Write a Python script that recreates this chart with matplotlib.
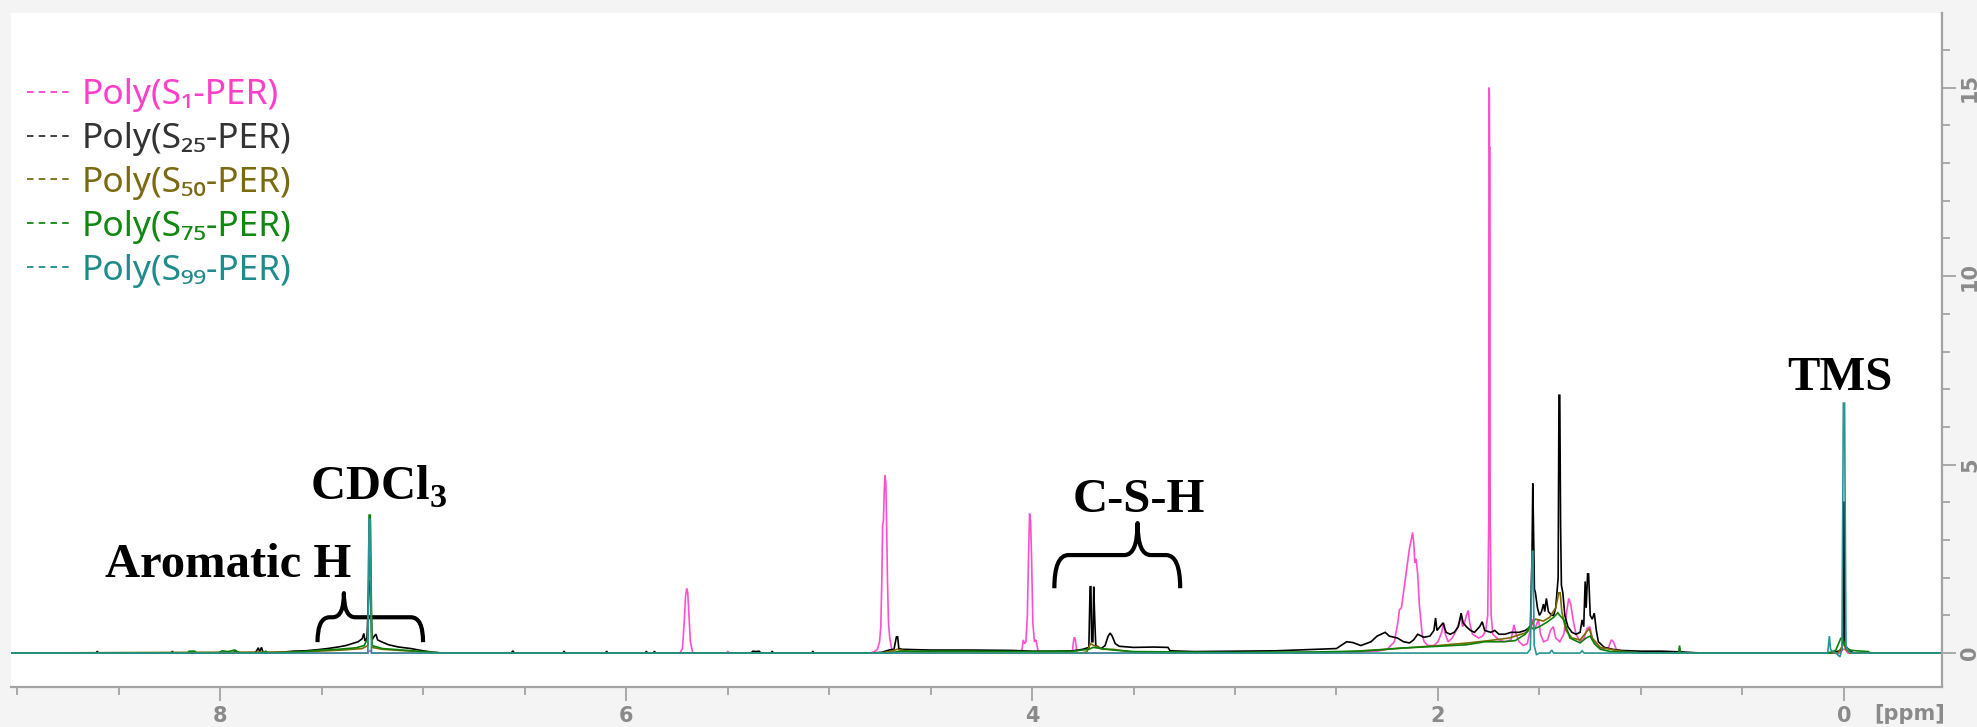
import matplotlib
matplotlib.use("Agg")
import matplotlib.pyplot as plt
from matplotlib.path import Path
from matplotlib.patches import PathPatch
from matplotlib.lines import Line2D
from matplotlib.ticker import MultipleLocator
from matplotlib.font_manager import FontProperties, fontManager

plt.rcParams["mathtext.fontset"] = "custom"
plt.rcParams["mathtext.rm"] = "Liberation Serif:bold"
plt.rcParams["mathtext.bf"] = "Liberation Serif:bold"

# ---- series ----
labels = ["Poly(S\u2081-PER)", "Poly(S\u2082\u2085-PER)", "Poly(S\u2085\u2080-PER)",
          "Poly(S\u2087\u2085-PER)", "Poly(S\u2089\u2089-PER)"]
line_colors = ["#ff4fcf", "#000000", "#7d6a00", "#0a820a", "#2a9494"]
label_colors = ["#ff3fc8", "#333333", "#7a6b12", "#118811", "#1f8b8b"]

# (chemical shift / ppm, intensity) for each spectrum
s1_points = [
    (9.10, 0), (7.272, 0), (7.262, 0.08), (7.252, 0),
    (5.735, 0), (5.722, 0.12), (5.713, 0.85), (5.707, 1.5), (5.701, 1.72), (5.696, 1.6),
    (5.690, 1.0), (5.683, 0.3), (5.672, 0.02), (5.665, 0),
    (5.505, 0), (5.498, 0.04), (5.490, 0),
    (4.80, 0), (4.776, 0.04), (4.762, 0.1), (4.751, 0.3), (4.745, 0.7), (4.740, 1.9),
    (4.736, 3.4), (4.732, 3.5), (4.728, 4.3), (4.724, 4.72), (4.720, 4.5), (4.716, 3.3),
    (4.712, 1.9), (4.707, 0.8), (4.701, 0.4), (4.693, 0.15), (4.683, 0.03), (4.670, 0),
    (4.060, 0), (4.049, 0.1), (4.043, 0.35), (4.037, 0.25), (4.030, 0.3), (4.023, 1.0),
    (4.017, 2.6), (4.012, 3.7), (4.007, 3.5), (4.002, 2.5), (3.996, 0.8), (3.988, 0.3),
    (3.980, 0.35), (3.972, 0.1), (3.962, 0),
    (3.802, 0), (3.796, 0.3), (3.791, 0.42), (3.786, 0.35), (3.779, 0),
    (2.50, 0), (2.40, 0.02), (2.30, 0.05), (2.25, 0.1), (2.215, 0.3), (2.198, 0.8),
    (2.190, 1.15), (2.180, 1.2), (2.170, 1.6), (2.160, 2.0), (2.150, 2.4), (2.140, 2.8),
    (2.132, 3.0), (2.125, 3.2), (2.119, 2.9), (2.114, 2.4), (2.108, 2.5), (2.100, 2.1),
    (2.092, 1.3), (2.085, 0.9), (2.078, 0.5), (2.068, 0.3), (2.050, 0.2), (2.020, 0.2),
    (2.000, 0.3), (1.982, 0.55), (1.972, 0.8), (1.964, 0.5), (1.950, 0.3), (1.930, 0.4),
    (1.910, 0.6), (1.896, 0.8), (1.886, 0.95), (1.879, 0.7), (1.869, 0.8), (1.860, 1.0),
    (1.851, 1.13), (1.844, 0.8), (1.830, 0.5), (1.800, 0.4), (1.780, 0.45), (1.765, 0.6),
    (1.755, 1.0), (1.750, 3.5), (1.749, 15.0), (1.747, 14.9), (1.746, 13.4), (1.744, 13.4),
    (1.743, 3.5), (1.738, 1.0), (1.730, 0.5), (1.700, 0.35), (1.670, 0.3), (1.640, 0.35),
    (1.626, 0.75), (1.615, 0.5), (1.600, 0.3), (1.580, 0.2), (1.560, 0.25), (1.546, 0.6),
    (1.536, 0.9), (1.526, 0.6), (1.515, 0.75), (1.505, 0.9), (1.495, 0.5), (1.480, 0.3),
    (1.460, 0.35), (1.446, 0.6), (1.432, 0.7), (1.420, 0.4), (1.400, 0.3), (1.380, 0.5),
    (1.366, 1.1), (1.356, 1.45), (1.346, 1.3), (1.335, 0.9), (1.320, 0.5), (1.300, 0.3),
    (1.280, 0.4), (1.266, 0.65), (1.252, 0.7), (1.240, 0.4), (1.220, 0.2), (1.190, 0.1),
    (1.160, 0.15), (1.146, 0.35), (1.136, 0.3), (1.120, 0.08), (1.050, 0.03), (0.950, 0),
    (0.020, 0), (0.006, 0.1), (-0.006, 0.1), (-0.020, 0), (-0.60, 0),
]

s25_points = [
    (9.10, 0), (8.610, 0), (8.605, 0.05), (8.600, 0), (8.240, 0), (8.235, 0.05), (8.230, 0),
    (7.930, 0), (7.925, 0.08), (7.918, 0.02), (7.910, 0),
    (7.830, 0), (7.820, 0.06), (7.812, 0.14), (7.805, 0.04), (7.796, 0.15), (7.788, 0.02), (7.780, 0),
    (7.700, 0.02), (7.640, 0.05), (7.580, 0.06), (7.520, 0.09), (7.470, 0.12), (7.420, 0.16),
    (7.380, 0.2), (7.345, 0.26), (7.320, 0.3), (7.300, 0.38), (7.292, 0.52), (7.286, 0.32),
    (7.276, 0.4), (7.266, 1.9), (7.260, 1.9), (7.252, 0.35), (7.240, 0.45), (7.232, 0.5),
    (7.224, 0.35), (7.205, 0.3), (7.170, 0.22), (7.120, 0.16), (7.060, 0.12), (7.000, 0.06),
    (6.950, 0.02), (6.900, 0),
    (6.565, 0), (6.558, 0.06), (6.550, 0), (6.310, 0), (6.305, 0.05), (6.300, 0),
    (6.100, 0), (6.096, 0.05), (6.090, 0), (5.905, 0), (5.900, 0.05), (5.895, 0),
    (5.865, 0), (5.860, 0.05), (5.855, 0), (5.385, 0), (5.375, 0.05), (5.360, 0.04),
    (5.345, 0.05), (5.335, 0), (5.285, 0), (5.280, 0.05), (5.275, 0), (5.085, 0),
    (5.080, 0.05), (5.075, 0),
    (4.800, 0), (4.740, 0.02), (4.705, 0.08), (4.680, 0.1), (4.668, 0.43), (4.662, 0.43),
    (4.656, 0.12), (4.640, 0.1), (4.500, 0.08), (4.300, 0.08), (4.100, 0.07), (4.000, 0.05),
    (3.900, 0.05), (3.800, 0.06), (3.750, 0.1), (3.720, 0.15), (3.714, 1.76), (3.710, 1.76),
    (3.706, 0.3), (3.700, 0.3), (3.696, 1.76), (3.691, 0.9), (3.686, 0.2), (3.660, 0.12),
    (3.640, 0.2), (3.625, 0.45), (3.615, 0.53), (3.605, 0.45), (3.590, 0.25), (3.570, 0.18),
    (3.500, 0.15), (3.400, 0.16), (3.330, 0.15), (3.320, 0.06), (3.200, 0.04), (3.000, 0.05),
    (2.800, 0.06), (2.700, 0.08), (2.600, 0.1), (2.500, 0.12), (2.450, 0.3), (2.420, 0.28),
    (2.380, 0.2), (2.330, 0.3), (2.300, 0.45), (2.280, 0.5), (2.260, 0.55), (2.240, 0.45),
    (2.200, 0.4), (2.170, 0.3), (2.140, 0.27), (2.120, 0.35), (2.100, 0.5), (2.070, 0.42),
    (2.040, 0.45), (2.020, 0.6), (2.012, 0.93), (2.005, 0.6), (1.990, 0.7), (1.975, 0.8),
    (1.960, 0.55), (1.940, 0.5), (1.920, 0.55), (1.900, 0.7), (1.886, 1.06), (1.876, 0.8),
    (1.860, 0.7), (1.840, 0.6), (1.820, 0.55), (1.795, 0.7), (1.782, 0.83), (1.770, 0.6),
    (1.740, 0.55), (1.720, 0.6), (1.700, 0.5), (1.670, 0.5), (1.640, 0.55), (1.600, 0.55),
    (1.570, 0.6), (1.545, 0.7), (1.537, 2.5), (1.533, 4.5), (1.529, 3.2), (1.525, 1.7),
    (1.520, 1.6), (1.510, 1.2), (1.500, 1.0), (1.490, 1.1), (1.480, 1.3), (1.474, 1.1),
    (1.466, 1.45), (1.456, 1.1), (1.440, 1.0), (1.430, 1.0), (1.420, 1.2), (1.408, 2.0),
    (1.404, 6.84), (1.400, 6.84), (1.396, 3.4), (1.392, 1.8), (1.385, 1.6), (1.375, 1.0),
    (1.360, 0.7), (1.340, 0.55), (1.320, 0.5), (1.300, 0.55), (1.290, 0.88), (1.282, 0.7),
    (1.275, 1.9), (1.270, 1.2), (1.263, 2.1), (1.258, 2.1), (1.250, 1.0), (1.240, 0.9),
    (1.230, 1.06), (1.220, 0.6), (1.210, 0.3), (1.180, 0.15), (1.140, 0.1), (1.100, 0.07),
    (1.000, 0.05), (0.900, 0.05), (0.800, 0.03), (0.700, 0),
    (0.100, 0), (0.040, 0.03), (0.012, 0.08), (0.005, 0.3), (0.002, 4.0), (-0.002, 4.0),
    (-0.005, 0.2), (-0.030, 0.05), (-0.050, 0), (-0.60, 0),
]

s50_points = [
    (9.10, 0), (7.600, 0.03), (7.400, 0.08), (7.300, 0.12), (7.272, 0.2), (7.266, 2.55),
    (7.260, 2.55), (7.252, 0.15), (7.200, 0.1), (7.000, 0.03), (6.900, 0),
    (4.750, 0), (4.700, 0.04), (4.665, 0.1), (4.600, 0.04), (4.500, 0), (3.760, 0),
    (3.730, 0.03), (3.712, 0.25), (3.695, 0.2), (3.650, 0.1), (3.600, 0.1), (3.500, 0.02),
    (3.400, 0), (2.600, 0), (2.400, 0.05), (2.200, 0.12), (2.000, 0.2), (1.850, 0.27),
    (1.750, 0.33), (1.650, 0.4), (1.560, 0.55), (1.535, 0.8), (1.520, 0.9), (1.480, 0.85),
    (1.450, 0.95), (1.420, 1.2), (1.405, 1.6), (1.398, 1.6), (1.390, 1.1), (1.370, 0.6),
    (1.340, 0.4), (1.300, 0.35), (1.270, 0.55), (1.255, 0.65), (1.240, 0.4), (1.200, 0.15),
    (1.100, 0.05), (1.000, 0),
    (0.030, 0), (0.006, 0.2), (0.000, 0.3), (-0.008, 0.1), (-0.030, 0), (-0.60, 0),
]

s75_points = [
    (9.10, 0), (8.160, 0), (8.152, 0.05), (8.125, 0.05), (8.115, 0), (8.010, 0), (7.990, 0.06),
    (7.960, 0.04), (7.930, 0.08), (7.900, 0), (7.785, 0), (7.775, 0.05), (7.765, 0),
    (7.650, 0.02), (7.560, 0.05), (7.500, 0.08), (7.420, 0.1), (7.330, 0.14), (7.290, 0.2),
    (7.272, 0.4), (7.266, 3.66), (7.260, 3.66), (7.252, 0.2), (7.200, 0.12), (7.100, 0.08),
    (7.000, 0.04), (6.900, 0),
    (4.700, 0), (4.650, 0.05), (4.500, 0.05), (4.300, 0.05), (4.000, 0.04), (3.900, 0.05),
    (3.800, 0.05), (3.720, 0.1), (3.700, 0.15), (3.600, 0.08), (3.500, 0.04), (3.300, 0.03),
    (3.000, 0.02), (2.600, 0.03), (2.400, 0.05), (2.300, 0.08), (2.190, 0.13), (2.000, 0.18),
    (1.860, 0.22), (1.770, 0.3), (1.680, 0.3), (1.620, 0.33), (1.570, 0.5), (1.550, 0.7),
    (1.530, 0.64), (1.500, 0.7), (1.460, 0.83), (1.430, 0.95), (1.410, 1.07), (1.400, 1.0),
    (1.380, 0.88), (1.350, 0.4), (1.300, 0.27), (1.270, 0.4), (1.250, 0.45), (1.230, 0.25),
    (1.200, 0.1), (1.150, 0.04), (1.050, 0.02), (0.950, 0), (0.815, 0), (0.810, 0.2),
    (0.805, 0),
    (0.070, 0), (0.040, 0.08), (0.015, 0.4), (0.005, 0.35), (-0.010, 0.15), (-0.030, 0.08),
    (-0.060, 0.06), (-0.090, 0.05), (-0.120, 0.04), (-0.130, 0), (-0.60, 0),
]

s99_points = [
    (9.10, 0), (7.272, 0), (7.266, 3.55), (7.260, 3.55), (7.254, 0), (1.560, 0),
    (1.545, 0.1), (1.536, 2.7), (1.532, 2.7), (1.526, 0.2), (1.515, -0.04), (1.500, 0),
    (1.450, 0), (1.440, 0.08), (1.430, 0), (1.300, 0), (1.290, 0.06), (1.280, 0),
    (0.080, 0), (0.072, 0.45), (0.066, 0.1), (0.058, 0.05), (0.035, -0.02), (0.020, -0.1),
    (0.010, 0.1), (0.003, 6.63), (-0.003, 6.63), (-0.010, 0.2), (-0.020, 0.05),
    (-0.040, 0), (-0.60, 0),
]

spectra = [s1_points, s25_points, s50_points, s75_points, s99_points]

# ---- figure ----
W, H = 1977, 727
fig = plt.figure(figsize=(W / 100, H / 100), dpi=100, facecolor="#f4f4f4")
ax = fig.add_axes([11 / W, 40 / H, 1931 / W, 674 / H])
ax.set_facecolor("white")

for pts, col in zip(spectra, line_colors):
    ppm, inten = zip(*pts)
    ax.plot(ppm, inten, color=col, lw=1.2, solid_joinstyle="miter")

ax.set_xlim(9.03, -0.483)
ax.set_ylim(-0.90, 16.98)

for side in ("left", "top"):
    ax.spines[side].set_visible(False)
for side in ("right", "bottom"):
    ax.spines[side].set_color("#a3a3a3")
    ax.spines[side].set_linewidth(1.6)

# narrow bold face for the axis numbers when available
installed = {f.name for f in fontManager.ttflist}
tick_family = "Liberation Sans Narrow" if "Liberation Sans Narrow" in installed else "DejaVu Sans"

ax.yaxis.tick_right()
ax.xaxis.set_major_locator(MultipleLocator(2))
ax.xaxis.set_minor_locator(MultipleLocator(0.5))
ax.yaxis.set_major_locator(MultipleLocator(5))
ax.yaxis.set_minor_locator(MultipleLocator(1))
ax.tick_params(which="both", direction="out", color="#a3a3a3", width=1.3,
               labelcolor="#8a8a8a", labelsize=15)
ax.tick_params(which="major", length=10)
ax.tick_params(which="minor", length=6)
ax.tick_params(axis="x", pad=4)
ax.tick_params(axis="y", pad=3, labelrotation=90)
for lbl in ax.get_xticklabels() + ax.get_yticklabels():
    lbl.set_fontweight("bold")
    lbl.set_fontfamily(tick_family)
for lbl in ax.get_yticklabels():
    lbl.set_va("center")

fig.text(1910 / W, 1 - 714 / H, "[ppm]", ha="center", va="center",
         color="#8a8a8a", fontsize=15, fontweight="bold", family=tick_family)

# ---- legend ----
handles = [Line2D([], [], color=c, lw=1.3, linestyle=(0, (3.6, 2.9))) for c in label_colors]
leg = ax.legend(handles, labels, loc="upper left",
                bbox_to_anchor=(27 / W, 1 - 78 / H), bbox_transform=fig.transFigure,
                frameon=False, prop=FontProperties(family=["Noto Sans", "DejaVu Sans"], size=25.5),
                labelcolor=label_colors, handlelength=1.27, handletextpad=0.28,
                labelspacing=0.28, borderpad=0, borderaxespad=0)

# ---- annotations ----
serif = dict(family="Liberation Serif", fontweight="bold", fontsize=35, color="black")
ax.text(8.567, 2.02, "Aromatic H", ha="left", va="baseline", **serif)
ax.text(7.557, 4.06, r"CDCl$_{\mathbf{3}}$", ha="left", va="baseline", **serif)
ax.text(3.798, 3.74, "C-S-H", ha="left", va="baseline", **serif)
ax.text(0.281, 6.98, "TMS", ha="left", va="baseline", **serif)


def curly_brace(xl, xt, xr, yb, ym, yt, r_end, r_tip):
    verts = [(xl, yb), (xl, ym), (xl - r_end, ym), (xt + r_tip, ym), (xt, ym), (xt, yt),
             (xt, ym), (xt - r_tip, ym), (xr + r_end, ym), (xr, ym), (xr, yb)]
    codes = [Path.MOVETO, Path.CURVE3, Path.CURVE3, Path.LINETO, Path.CURVE3, Path.CURVE3,
             Path.CURVE3, Path.CURVE3, Path.LINETO, Path.CURVE3, Path.CURVE3]
    ax.add_patch(PathPatch(Path(verts, codes), fill=False, lw=3.0, color="black",
                           capstyle="butt", joinstyle="round"))


curly_brace(7.52, 7.39, 7.00, 0.29, 0.95, 1.59, 0.06, 0.055)
curly_brace(3.89, 3.48, 3.27, 1.72, 2.60, 3.45, 0.07, 0.065)

fig.savefig("out.png", dpi=100, facecolor=fig.get_facecolor())
